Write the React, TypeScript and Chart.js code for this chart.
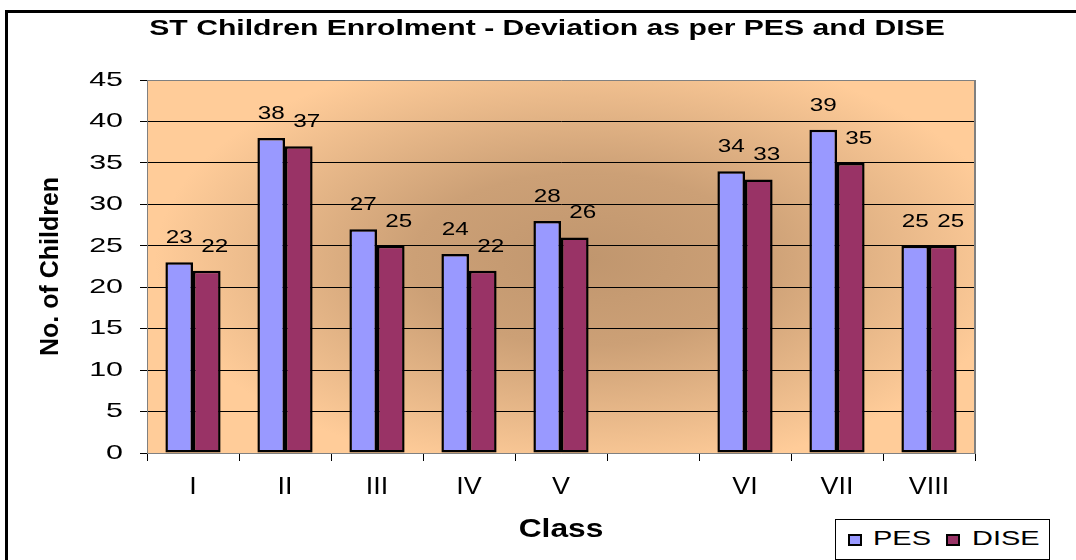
import React, { useEffect, useRef } from "react";
import { Chart, registerables } from "chart.js";

Chart.register(...registerables);

const categories = ["I", "II", "III", "IV", "V", "", "VI", "VII", "VIII"];
const pesValues = [23, 38, 27, 24, 28, null, 34, 39, 25];
const diseValues = [22, 37, 25, 22, 26, null, 33, 35, 25];
const seriesNames = ["PES", "DISE"];
const seriesColors = ["#9999FF", "#993366"];
const chartTitle = "ST Children Enrolment - Deviation as per PES and DISE";
const yTitle = "No. of Children";
const xTitle = "Class";

const FONT = '"Liberation Sans", Arial, sans-serif';

// horizontal text stretch (the source renders its texts wider than normal)
function stretchFor(font: string): number {
  if (/\b24px/.test(font)) return 1.12;
  if (/\b25px/.test(font)) return 1.27;
  if (/\b21px/.test(font)) return 1.45;
  if (/\b18px/.test(font)) return 1.35;
  return 1.37;
}

function patchContext(ctx: any) {
  if (ctx.__patched) return;
  ctx.__patched = true;
  const orig = ctx.fillText;
  ctx.fillText = function (text: string, x: number, y: number, maxWidth?: number) {
    const m = this.getTransform();
    const sx = stretchFor(this.font);
    if (Math.abs(m.b) > 1e-6 || Math.abs(m.c) > 1e-6) {
      return maxWidth === undefined ? orig.call(this, text, x, y) : orig.call(this, text, x, y, maxWidth);
    }
    this.save();
    this.translate(x, y);
    this.scale(sx, 1);
    if (maxWidth === undefined) orig.call(this, text, 0, 0);
    else orig.call(this, text, 0, 0, maxWidth / sx);
    this.restore();
  };
}

const backgroundPlugin = {
  id: "plotBackground",
  beforeDraw(chart: any) {
    const { ctx, chartArea } = chart;
    const { left, top, right, bottom } = chartArea;
    const w = right - left;
    const h = bottom - top;
    ctx.save();
    ctx.fillStyle = "#FFCC99";
    ctx.fillRect(left, top, w, h);
    ctx.beginPath();
    ctx.rect(left, top, w, h);
    ctx.clip();
    const cx = left + w * 0.53;
    const cy = top + h * 0.48;
    const rx = w * 0.52;
    const ry = h * 0.58;
    ctx.translate(cx, cy);
    ctx.scale(1, ry / rx);
    const g = ctx.createRadialGradient(0, 0, 0, 0, 0, rx);
    g.addColorStop(0, "rgb(192,150,110)");
    g.addColorStop(0.4, "rgb(204,160,118)");
    g.addColorStop(1, "rgba(255,204,153,1)");
    ctx.fillStyle = g;
    ctx.fillRect(-rx * 1.2, -rx * 1.2, rx * 2.4, rx * 2.4);
    ctx.restore();
  },
  afterDraw(chart: any) {
    const { ctx, chartArea } = chart;
    ctx.save();
    ctx.strokeStyle = "#808080";
    ctx.lineWidth = 2;
    ctx.beginPath();
    ctx.moveTo(chartArea.right, chartArea.top);
    ctx.lineTo(chartArea.right, chartArea.bottom);
    ctx.stroke();
    ctx.restore();
  },
};

// horizontal nudge of the second series' labels, as in the source
const labelShift = [0, 8];

const valueLabelPlugin = {
  id: "valueLabels",
  afterDatasetsDraw(chart: any) {
    const ctx = chart.ctx;
    chart.data.datasets.forEach((ds: any, di: number) => {
      const meta = chart.getDatasetMeta(di);
      meta.data.forEach((el: any, i: number) => {
        const v = ds.data[i];
        if (v == null) return;
        ctx.save();
        ctx.font = `18px ${FONT}`;
        ctx.fillStyle = "#000";
        ctx.textAlign = "center";
        ctx.textBaseline = "middle";
        ctx.fillText(String(v), el.x + labelShift[di], el.y - 24);
        ctx.restore();
      });
    });
  },
};

export default function App() {
  const ref = useRef<HTMLCanvasElement | null>(null);

  useEffect(() => {
    const canvas = ref.current;
    if (!canvas) return;
    const ctx = canvas.getContext("2d");
    patchContext(ctx);
    const chart = new Chart(canvas, {
      type: "bar",
      data: {
        labels: categories,
        datasets: [
          {
            label: seriesNames[0],
            data: pesValues,
            backgroundColor: seriesColors[0],
            borderColor: "#000",
            borderWidth: 2.5,
            borderSkipped: false,
            categoryPercentage: 0.6,
            barPercentage: 1.0,
          },
          {
            label: seriesNames[1],
            data: diseValues,
            backgroundColor: seriesColors[1],
            borderColor: "#000",
            borderWidth: 2.5,
            borderSkipped: false,
            categoryPercentage: 0.6,
            barPercentage: 1.0,
          },
        ],
      },
      options: {
        animation: false,
        responsive: false,
        maintainAspectRatio: false,
        devicePixelRatio: 1,
        layout: { padding: { left: 18, right: 0, top: 0, bottom: 0 } },
        plugins: {
          legend: { display: false },
          tooltip: { enabled: false },
          title: {
            display: true,
            text: chartTitle,
            color: "#000",
            font: { family: FONT, size: 22, weight: "bold" },
            padding: { top: 16, bottom: 37.6 },
          },
        },
        scales: {
          x: {
            afterFit: (s: any) => {
              s.height = 107;
            },
            grid: {
              offset: true,
              drawOnChartArea: false,
              drawTicks: true,
              tickLength: 8,
              tickColor: "#000",
            },
            border: { display: true, color: "#808080", width: 1 },
            ticks: {
              color: "#000",
              font: { family: FONT, size: 24 },
              padding: 12,
              maxRotation: 0,
              autoSkip: false,
            },
            title: {
              display: true,
              text: xTitle,
              color: "#000",
              font: { family: FONT, size: 25, weight: "bold" },
              padding: { top: 0, bottom: 15 },
            },
          },
          y: {
            min: 0,
            max: 45,
            afterFit: (s: any) => {
              s.width = 129;
            },
            grid: {
              color: (c: any) => (c.index === 0 || c.tick?.value === 45 ? "#808080" : "#000"),
              lineWidth: 1,
              drawTicks: true,
              tickLength: 7,
              tickColor: "#000",
            },
            border: { display: true, color: "#808080", width: 1 },
            ticks: {
              stepSize: 5,
              color: "#000",
              font: { family: FONT, size: 21 },
              padding: 17,
            },
            title: {
              display: true,
              text: yTitle,
              color: "#000",
              font: { family: FONT, size: 25, weight: "bold" },
              padding: { top: 18, bottom: 0 },
            },
          },
          yRight: {
            position: "right",
            min: 0,
            max: 45,
            afterFit: (s: any) => {
              s.width = 101;
            },
            grid: { display: false, drawOnChartArea: false },
            border: { display: false },
            ticks: { display: false },
          },
        },
      },
      plugins: [backgroundPlugin, valueLabelPlugin],
    });
    return () => chart.destroy();
  }, []);

  const legendText: React.CSSProperties = {
    position: "absolute",
    top: 7,
    height: 21,
    lineHeight: "21px",
    fontSize: 21,
    fontFamily: FONT,
    color: "#000",
    whiteSpace: "nowrap",
    transform: "scaleX(1.38)",
    transformOrigin: "left center",
  };
  const swatch = (color: string, left: number): React.CSSProperties => ({
    position: "absolute",
    left,
    top: 14,
    width: 14,
    height: 12,
    background: color,
    border: "2px solid #000",
    boxSizing: "border-box",
  });

  return (
    <div style={{ position: "absolute", left: 0, top: 0, width: 1076, height: 560, overflow: "hidden", background: "#fff" }}>
      <canvas ref={ref} width={1076} height={560} style={{ position: "absolute", left: 0, top: 0, width: 1076, height: 560 }} />
      <div
        style={{
          position: "absolute",
          left: 5,
          top: 10,
          width: 1071,
          height: 550,
          borderLeft: "3px solid #000",
          borderTop: "3px solid #000",
          boxSizing: "border-box",
          pointerEvents: "none",
        }}
      />
      <div
        style={{
          position: "absolute",
          left: 835,
          top: 519,
          width: 215,
          height: 41,
          border: "1px solid #000",
          background: "#fff",
          boxSizing: "border-box",
        }}
      >
        <div style={swatch(seriesColors[0], 12)} />
        <span style={{ ...legendText, left: 37 }}>{seriesNames[0]}</span>
        <div style={swatch(seriesColors[1], 110)} />
        <span style={{ ...legendText, left: 136 }}>{seriesNames[1]}</span>
      </div>
    </div>
  );
}
